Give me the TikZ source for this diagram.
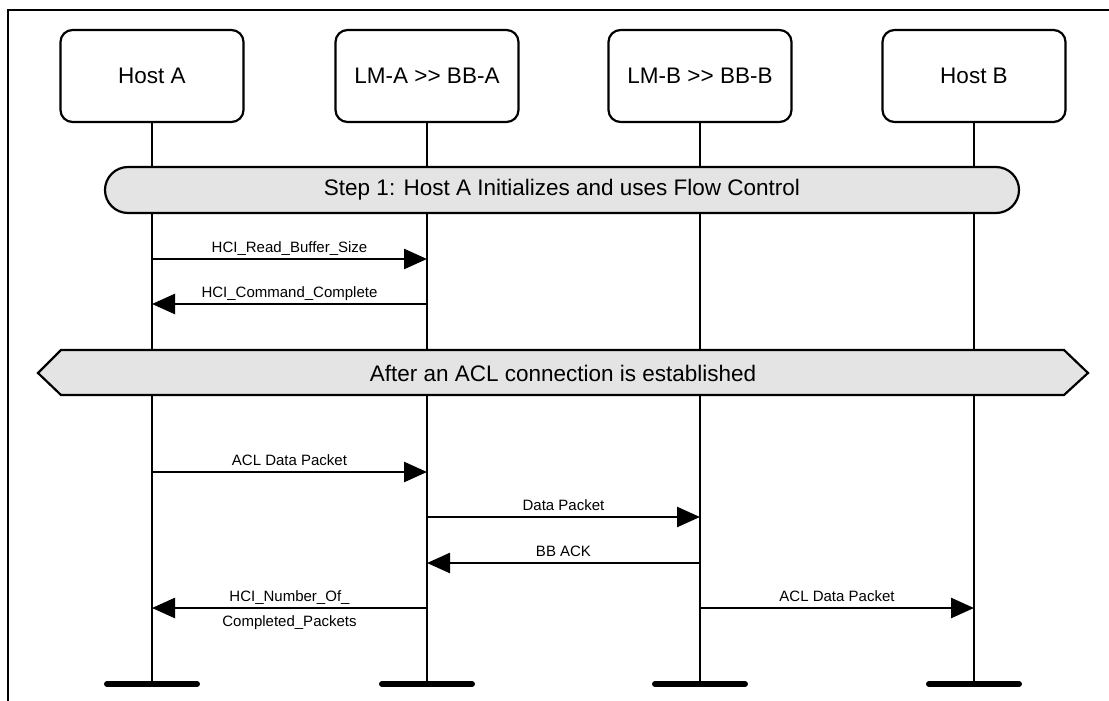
\documentclass[tikz,border=0pt]{standalone}
\usepackage{fontspec}
\setmainfont{Liberation Sans}
\usetikzlibrary{arrows.meta}
\definecolor{bannergray}{HTML}{E4E4E4}
\begin{document}
\begin{tikzpicture}[x=1pt,y=-1pt,
  actor/.style={draw,line width=2.2pt,rounded corners=12pt,minimum width=183pt,minimum height=92pt,
    font=\fontsize{22.5pt}{26pt}\selectfont,inner sep=0pt},
  lifeline/.style={line width=2pt},
  msg/.style={line width=2.5pt,-{Triangle[length=23pt,width=20pt]}},
  msglabel/.style={font=\fontsize{15pt}{18pt}\selectfont,anchor=base,inner sep=0pt},
  banner/.style={draw,line width=2.2pt,fill=bannergray,font=\fontsize{22.5pt}{26pt}\selectfont},
  foot/.style={line width=6pt,line cap=round}]
\useasboundingbox (0,0) rectangle (1109,701);
% frame
\draw[line width=2pt] (8,710) -- (8,10) -- (1120,10);

% participants
\node[actor] (hA) at (152,76) {Host A};
\node[actor] (lA) at (427,76) {LM-A >{}> BB-A};
\node[actor] (lB) at (700,76) {LM-B >{}> BB-B};
\node[actor] (hB) at (974,76) {Host B};

% lifeline ends
\coordinate (ehA) at (152,684);
\coordinate (elA) at (427,684);
\coordinate (elB) at (700,684);
\coordinate (ehB) at (974,684);
\foreach \n in {hA,lA,lB,hB} {
  \draw[lifeline] (\n.south) -- (e\n);
  \draw[foot] ([xshift=-45pt]e\n) -- ([xshift=45pt]e\n);
}

% step banner
\node[banner,rounded corners=23pt,minimum width=914pt,minimum height=46pt,inner sep=0pt] (step) at (562,190)
  {Step 1: Host A Initializes and uses Flow Control};

% connection banner
\draw[line width=2.2pt,fill=bannergray,line join=miter] (38,373) -- (61,350) -- (1064,350) -- (1088,373) -- (1064,395) -- (61,395) -- cycle;
\node[font=\fontsize{22.5pt}{26pt}\selectfont,inner sep=0pt] (acl) at (563,373) {After an ACL connection is established};

% message anchors on the lifelines
\coordinate (hA1) at (152,259); \coordinate (lA1) at (427,259);
\coordinate (hA2) at (152,304); \coordinate (lA2) at (427,304);
\coordinate (hA3) at (152,472); \coordinate (lA3) at (427,472);
\coordinate (lA4) at (427,517); \coordinate (lB4) at (700,517);
\coordinate (lA5) at (427,563); \coordinate (lB5) at (700,563);
\coordinate (hA6) at (152,608); \coordinate (lA6) at (427,608);
\coordinate (lB6) at (700,608); \coordinate (hB6) at (974,608);

% messages
\draw[msg] (hA1) -- node[msglabel,yshift=7pt] (t1) {HCI\_Read\_Buffer\_Size} (lA1);
\draw[msg] (lA2) -- node[msglabel,yshift=7pt] (t2) {HCI\_Command\_Complete} (hA2);
\draw[msg] (hA3) -- node[msglabel,yshift=7pt] (t3) {ACL Data Packet} (lA3);
\draw[msg] (lA4) -- node[msglabel,yshift=7pt] (t4) {Data Packet} (lB4);
\draw[msg] (lB5) -- node[msglabel,yshift=7pt] (t5) {BB ACK} (lA5);
\draw[msg] (lA6) -- node[msglabel,yshift=7pt] (t6) {HCI\_Number\_Of\_} (hA6);
\node[msglabel] (t6b) at (289.5,626) {Completed\_Packets};
\draw[msg] (lB6) -- node[msglabel,yshift=7pt] (t7) {ACL Data Packet} (hB6);
\end{tikzpicture}
\end{document}
